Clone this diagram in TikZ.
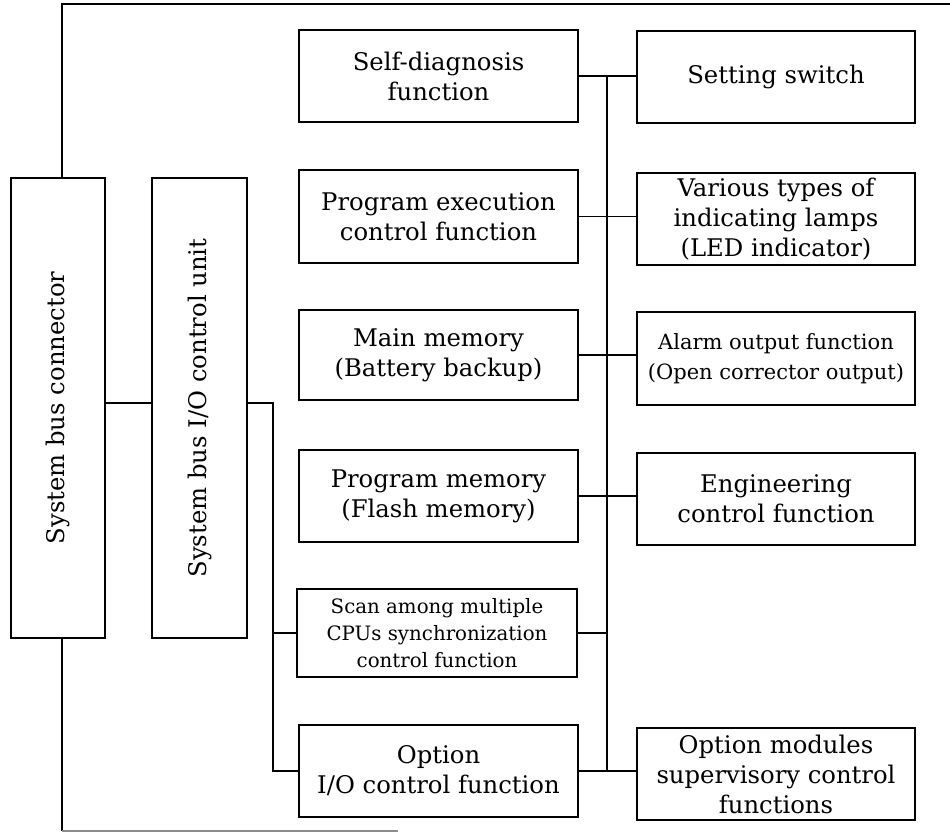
\documentclass[tikz,border=0pt]{standalone}
\usepackage{fontspec}
\setmainfont{DejaVu Serif}
\begin{document}
\begin{tikzpicture}[x=1pt,y=-1pt,
  box/.style={draw, line width=2.2pt, rectangle, align=center, inner sep=2pt,
    font=\fontsize{24.3}{30}\selectfont},
  midbox/.style={box, minimum width=279pt},
  rightbox/.style={box, minimum width=278pt},
  conn/.style={line width=1.8pt},
  frame/.style={line width=2pt}]
\useasboundingbox (0,0) rectangle (950,833);
% left vertical boxes
\node[box, minimum width=94pt, minimum height=460pt] (sbc) at (58,408) {};
\node[rotate=90, font=\fontsize{24.3}{30}\selectfont] (sbct) at (sbc.center) {System bus connector};
\node[box, minimum width=95pt, minimum height=460pt] (sbio) at (199.5,408) {};
\node[rotate=90, font=\fontsize{24.3}{30}\selectfont] (sbiot) at (sbio.center) {System bus I/O control unit};
% middle column
\node[midbox, minimum height=92pt] (sd) at (438.5,76) {Self-diagnosis\\function};
\node[midbox, minimum height=93pt] (pe) at (438.5,216.5) {Program execution\\control function};
\node[midbox, minimum height=90pt] (mm) at (438.5,355) {Main memory\\(Battery backup)};
\node[midbox, minimum height=92pt] (pm) at (438.5,496) {Program memory\\(Flash memory)};
\node[box, minimum width=280pt, minimum height=88pt, font=\fontsize{19.8}{27}\selectfont] (sc) at (437,633) {Scan among multiple\\CPUs synchronization\\control function};
\node[midbox, minimum height=92pt] (oi) at (438.5,771) {Option\\I/O control function};
% right column
\node[rightbox, minimum height=92pt] (ss) at (776,77) {Setting switch};
\node[rightbox, minimum height=92pt] (vt) at (776,219) {Various types of\\indicating lamps\\(LED indicator)};
\node[rightbox, minimum height=93pt, font=\fontsize{21}{30}\selectfont] (ao) at (776,358.5) {Alarm output function\\(Open corrector output)};
\node[rightbox, minimum height=92pt] (ec) at (776,499) {Engineering\\control function};
\node[rightbox, minimum height=92pt] (om) at (776,774) {Option modules\\supervisory control\\functions};
% reference coordinates
\coordinate (bx) at (607,0);
\coordinate (lx) at (273,0);
\coordinate (h1) at (0,403);
\coordinate (fx) at (62,0);
\coordinate (ftl) at (62,4);
\coordinate (ftr) at (950,4);
\coordinate (fbl) at (62,831);
\coordinate (fbr) at (398,831);
% bus on the right of the middle column
\draw[conn] (bx |- sd.east) -- (bx |- oi.east);
\draw[conn] (sd.east) -- (ss.west |- sd.east);
\draw[conn] (pe.east) -- (vt.west |- pe.east);
\draw[conn] (mm.east) -- (ao.west |- mm.east);
\draw[conn] (pm.east) -- (ec.west |- pm.east);
\draw[conn] (sc.east) -- (bx |- sc.east);
\draw[conn] (oi.east) -- (om.west |- oi.east);
% left connections
\draw[conn] (sbc.east |- h1) -- (sbio.west |- h1);
\draw[conn] (sbio.east |- h1) -| (lx |- oi.west) -- (oi.west);
\draw[conn] (lx |- sc.west) -- (sc.west);
% frame
\draw[frame] (sbc.north -| fx) -- (ftl) -- (ftr);
\draw[frame] (sbc.south -| fx) -- (fbl);
\draw[line width=1.4pt, black!45] (fbl) -- (fbr);
\end{tikzpicture}
\end{document}
